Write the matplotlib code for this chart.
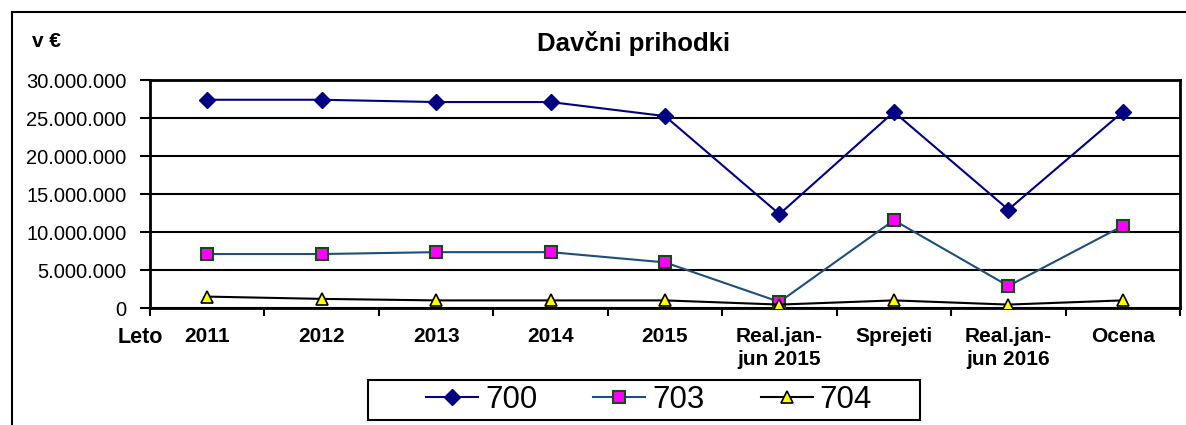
import matplotlib.pyplot as plt
from matplotlib.lines import Line2D
from matplotlib.patches import Rectangle
from matplotlib.ticker import FuncFormatter, MultipleLocator

categories = ['2011', '2012', '2013', '2014', '2015',
              'Real.jan-\njun 2015', 'Sprejeti', 'Real.jan-\njun 2016', 'Ocena']
s700 = [27400000, 27400000, 27100000, 27100000, 25250000, 12350000, 25800000, 12950000, 25800000]
s703 = [7100000, 7100000, 7350000, 7350000, 6000000, 800000, 11550000, 2900000, 10800000]
s704 = [1500000, 1200000, 1000000, 1000000, 1000000, 450000, 1000000, 450000, 1000000]

plt.rcParams['font.family'] = ['Liberation Sans', 'DejaVu Sans']

W, H = 1186, 425
fig = plt.figure(figsize=(W / 100, H / 100), dpi=100)
ax = fig.add_axes([150 / W, 1 - 308 / H, (1180 - 150) / W, (308 - 80) / H])

x = list(range(len(categories)))
ax.plot(x, s700, color='#000080', lw=1.5, marker='D', ms=8.5,
        mfc='#000080', mec='#000080', label='700', zorder=3)
ax.plot(x, s703, color='#1d4f7a', lw=1.5, marker='s', ms=9,
        mfc='#ff00ff', mec='#144d14', mew=1.5, label='703', zorder=3)
ax.plot(x, s704, color='black', lw=1.5, marker='^', ms=9,
        mfc='#ffff00', mec='black', mew=1.2, label='704', zorder=3)

ax.set_xlim(-0.5, len(categories) - 0.5)
ax.set_ylim(0, 30000000)
ax.yaxis.set_major_locator(MultipleLocator(5000000))
ax.yaxis.set_major_formatter(FuncFormatter(lambda v, p: f'{int(v):,}'.replace(',', '.')))
ax.grid(axis='y', color='black', lw=1.5)
ax.set_axisbelow(True)
for sp in ax.spines.values():
    sp.set_linewidth(2)

# category boundaries get the tick marks, labels sit in the middle
ax.set_xticks([i + 0.5 for i in range(-1, len(categories))])
ax.set_xticklabels([])
ax.set_xticks(x, minor=True)
ax.set_xticklabels(categories, minor=True, fontweight='bold', fontsize=15,
                   linespacing=1.28, va='top')
ax.tick_params(axis='x', which='major', direction='out', length=6, width=1.5)
ax.tick_params(axis='x', which='minor', length=0, pad=13.5)
ax.tick_params(axis='y', direction='out', length=7, width=1.5, labelsize=14.5, pad=10)

fig.text(118 / W, 1 - 343 / H, 'Leto', fontsize=15.5, fontweight='bold', va='baseline')
fig.text(32 / W, 1 - 47 / H, 'v €', fontsize=15, fontweight='bold', va='baseline')
fig.text(634 / W, 1 - 50.5 / H, 'Davčni prihodki', fontsize=18.5, fontweight='bold',
         ha='center', va='baseline')

fig.add_artist(Rectangle((368 / W, 1 - 420 / H), (920 - 368) / W, 40 / H,
                         transform=fig.transFigure, fill=False, ec='black', lw=1.5))
leg = fig.legend(loc='center', bbox_to_anchor=(649 / W, 1 - 400 / H), ncol=3,
                 fontsize=22.5, frameon=False, handlelength=1.66,
                 columnspacing=1.8, borderpad=0, handletextpad=0.22)

fig.add_artist(Line2D([12 / W, 1], [1 - 12 / H, 1 - 12 / H], color='black', lw=1.5))
fig.add_artist(Line2D([12 / W, 12 / W], [1 - 12 / H, 0], color='black', lw=1.5))

fig.savefig('out.png', dpi=100)
